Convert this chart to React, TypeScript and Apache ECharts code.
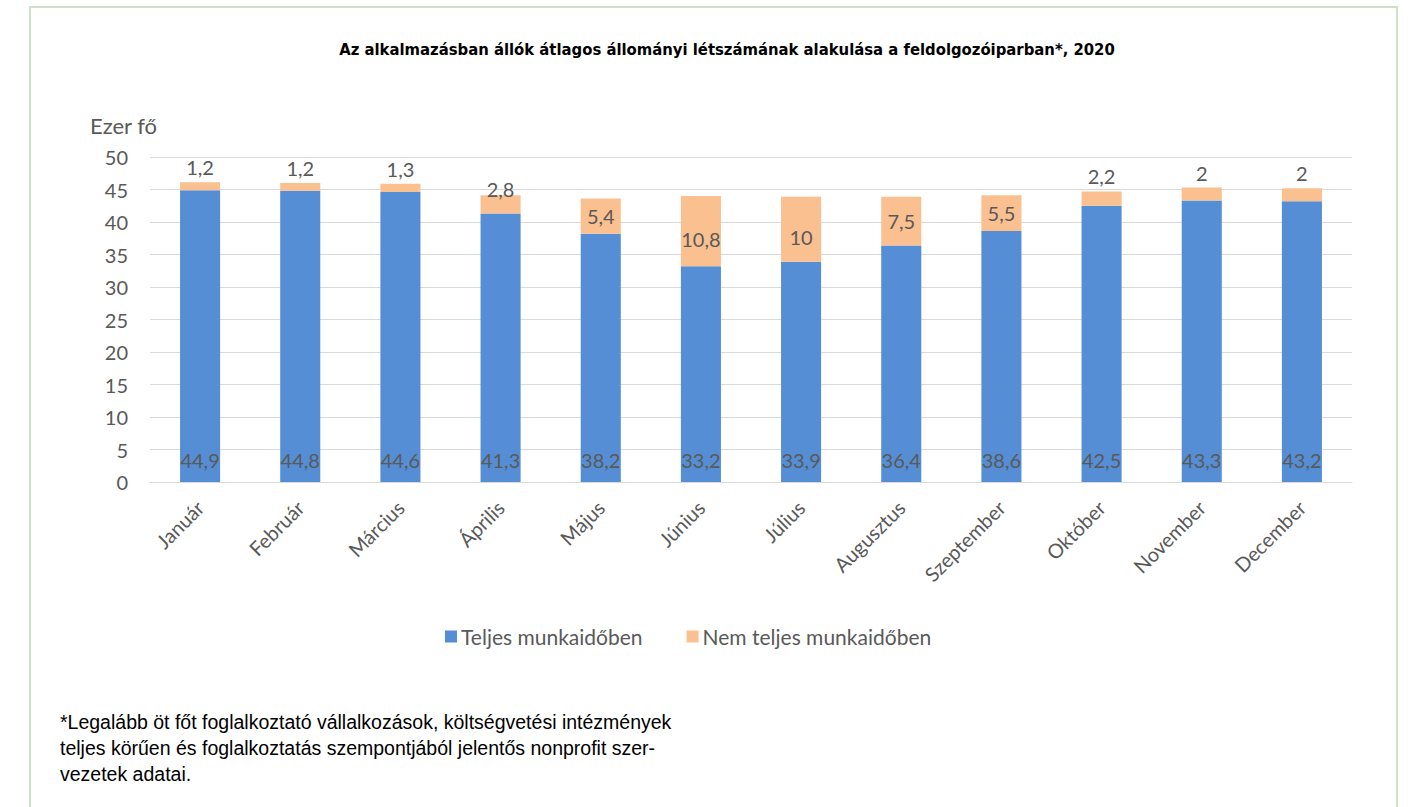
import React, { useEffect, useRef } from "react";
import * as echarts from "echarts";

const months = ["Január", "Február", "Március", "Április", "Május", "Június", "Július", "Augusztus", "Szeptember", "Október", "November", "December"];
const fullTime = [44.9, 44.8, 44.6, 41.3, 38.2, 33.2, 33.9, 36.4, 38.6, 42.5, 43.3, 43.2];
const partTime = [1.2, 1.2, 1.3, 2.8, 5.4, 10.8, 10, 7.5, 5.5, 2.2, 2, 2];

const titleText = "Az alkalmazásban állók átlagos állományi létszámának alakulása a feldolgozóiparban*, 2020";
const footLines = [
  "*Legalább öt főt foglalkoztató vállalkozások, költségvetési intézmények",
  "teljes körűen és foglalkoztatás szempontjából jelentős nonprofit szer-",
  "vezetek adatai.",
];

const fmt = (v: number) => String(v).replace(".", ",");
const GRAY = "#595959";
const FONT = "Lato";

export default function App() {
  const ref = useRef<HTMLDivElement>(null);
  useEffect(() => {
    if (!ref.current) return;
    const chart = echarts.init(ref.current, undefined, { renderer: "svg" });
    const partData = partTime.map((v) => {
      let label: any;
      if (v < 2.5) {
        label = { position: "top", distance: 5 };
      } else if (v < 4) {
        label = { position: "top", distance: -4 };
      } else if (v > 9) {
        label = { position: "inside", offset: [0, 8] };
      } else {
        label = { position: "inside" };
      }
      return { value: v, label };
    });
    chart.setOption({
      animation: false,
      backgroundColor: "#ffffff",
      title: {
        text: titleText,
        left: 722,
        textAlign: "center",
        top: 36,
        textStyle: {
          fontFamily: "'DejaVu Sans Condensed', 'DejaVu Sans'",
          fontWeight: "bold",
          fontSize: 16.5,
          color: "#000000",
        },
      },
      grid: { left: 150, right: 60, top: 157, bottom: 325, containLabel: false },
      legend: {
        data: ["Teljes munkaidőben", "Nem teljes munkaidőben"],
        left: 440,
        top: 621,
        itemWidth: 12,
        itemHeight: 12,
        itemGap: 44,
        icon: "rect",
        textStyle: { fontFamily: FONT, fontSize: 21, color: GRAY, padding: [0, 0, 0, -1] },
      },
      xAxis: {
        type: "category",
        data: months,
        axisLine: { show: true, lineStyle: { color: "#d9d9d9", width: 1 } },
        axisTick: { show: false },
        axisLabel: {
          rotate: 45,
          interval: 0,
          margin: 22,
          fontFamily: FONT,
          fontSize: 20,
          color: GRAY,
        },
      },
      yAxis: {
        type: "value",
        min: 0,
        max: 50,
        interval: 5,
        axisLine: { show: false },
        axisTick: { show: false },
        splitLine: { lineStyle: { color: "#d9d9d9", width: 1 } },
        axisLabel: {
          margin: 22,
          fontFamily: FONT,
          fontSize: 20,
          color: GRAY,
        },
      },
      graphic: [
        {
          type: "rect",
          shape: { x: 30, y: 7, width: 1367, height: 820 },
          style: { fill: "none", stroke: "#cfe0c8", lineWidth: 2 },
          silent: true,
        },
        {
          type: "text",
          x: 90,
          y: 125,
          style: { text: "Ezer fő", font: `22px ${FONT}`, fill: GRAY, textVerticalAlign: "middle" },
        },
        ...footLines.map((t, i) => ({
          type: "text",
          x: 60,
          y: 722 + i * 26,
          style: { text: t, font: "19.5px 'Liberation Sans'", fill: "#000000", textVerticalAlign: "middle" },
        })),
      ],
      series: [
        {
          name: "Teljes munkaidőben",
          type: "bar",
          stack: "total",
          barWidth: "40%",
          data: fullTime,
          itemStyle: { color: "#558ED5" },
          label: {
            show: true,
            position: "insideBottom",
            distance: 12,
            fontFamily: FONT,
            fontSize: 20,
            color: GRAY,
            formatter: (p: any) => fmt(p.value),
          },
        },
        {
          name: "Nem teljes munkaidőben",
          type: "bar",
          stack: "total",
          barWidth: "40%",
          data: partData,
          itemStyle: { color: "#FAC090" },
          label: {
            show: true,
            fontFamily: FONT,
            fontSize: 20,
            color: GRAY,
            formatter: (p: any) => fmt(p.value),
          },
        },
      ],
    });
    return () => chart.dispose();
  }, []);
  return (
    <div
      ref={ref}
      style={{ position: "fixed", left: 0, top: 0, width: 1412, height: 807 }}
    />
  );
}
